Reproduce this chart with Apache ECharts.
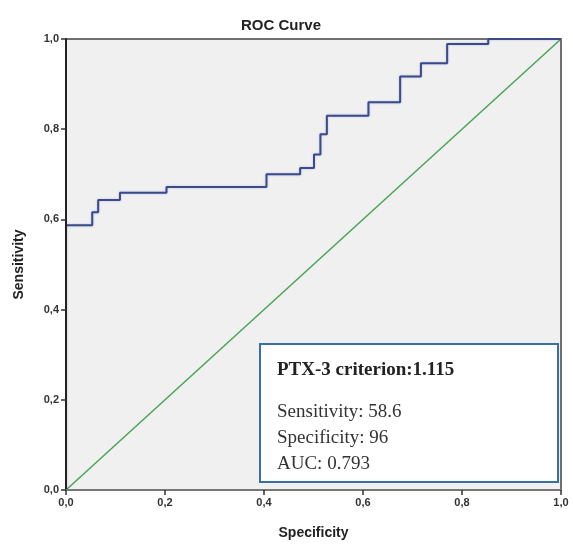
<!DOCTYPE html>
<html>
<head>
<meta charset="utf-8">
<script src="https://cdn.jsdelivr.net/npm/echarts@6/dist/echarts.min.js"></script>
<style>
  html, body { margin:0; padding:0; background:#fff; }
  #chart { width:573px; height:545px; }
</style>
</head>
<body>
<div id="chart"></div>
<script>
// ROC 曲线的拐点 (x 轴标为 Specificity, y 轴为 Sensitivity)
var rocX = [0, 0, 0.053, 0.065, 0.109, 0.203, 0.405, 0.473, 0.501, 0.514, 0.527, 0.611, 0.675, 0.717, 0.770, 0.853, 1.0];
var rocY = [0, 0.587, 0.616, 0.643, 0.659, 0.672, 0.700, 0.714, 0.744, 0.789, 0.830, 0.860, 0.917, 0.946, 0.989, 1.0, 1.0];
// 参考线
var refX = [0, 1];
var refY = [0, 1];
var boxLines = ['Sensitivity: 58.6', 'Specificity: 96', 'AUC: 0.793'];
var boxTitle = 'PTX-3 criterion:1.115';

var myChart = echarts.init(document.getElementById('chart'));

function pairs(xs, ys) {
    var out = [];
    for (var i = 0; i < xs.length; i++) out.push([xs[i], ys[i]]);
    return out;
}
function comma(v) { return v.toFixed(1).replace('.', ','); }

var axisCommon = {
    type: 'value',
    min: 0,
    max: 1,
    interval: 0.2,
    z: 5,
    splitLine: { show: false },
    axisTick: { show: true, length: 5, lineStyle: { color: '#333', width: 1.5 } },
    axisLabel: {
        formatter: comma,
        fontFamily: 'Liberation Sans, Arial',
        fontWeight: 'bold',
        fontSize: 11,
        color: '#333'
    },
    nameLocation: 'middle',
    nameTextStyle: {
        fontFamily: 'Liberation Sans, Arial',
        fontWeight: 'bold',
        fontSize: 14,
        color: '#222'
    }
};

var option = {
    animation: false,
    title: {
        text: 'ROC Curve',
        left: 236,
        top: 13,
        textStyle: {
            fontFamily: 'Liberation Sans, Arial',
            fontWeight: 'bold',
            fontSize: 15,
            color: '#222'
        }
    },
    grid: {
        left: 66,
        right: 12,
        top: 39,
        bottom: 52,
        show: true,
        backgroundColor: '#f0f0f0',
        borderColor: '#444',
        borderWidth: 1.5
    },
    xAxis: Object.assign({}, axisCommon, {
        name: 'Specificity',
        nameGap: 36,
        axisLine: { lineStyle: { color: '#777', width: 2 } },
        axisLabel: Object.assign({}, axisCommon.axisLabel, { margin: 7 })
    }),
    yAxis: Object.assign({}, axisCommon, {
        name: 'Sensitivity',
        nameGap: 40,
        axisLine: { lineStyle: { color: '#222', width: 2 } },
        axisLabel: Object.assign({}, axisCommon.axisLabel, { margin: 7 })
    }),
    series: [
        {
            name: 'Reference',
            type: 'line',
            data: pairs(refX, refY),
            symbol: 'none',
            lineStyle: { color: '#46a553', width: 1.5 }
        },
        {
            name: 'ROC',
            type: 'line',
            step: 'end',
            data: pairs(rocX, rocY),
            symbol: 'none',
            lineStyle: { color: '#3b4a8a', width: 2, shadowColor: 'rgba(120,140,200,0.5)', shadowBlur: 2 }
        }
    ],
    graphic: [
        {
            type: 'rect',
            shape: { x: 260, y: 344, width: 298, height: 138 },
            style: { fill: '#fff', stroke: '#3c6ea6', lineWidth: 2 },
            z: 100
        },
        {
            type: 'text',
            left: 277,
            top: 361,
            style: {
                text: boxTitle,
                font: 'bold 19px "Liberation Serif", "Times New Roman", serif',
                fill: '#222'
            },
            z: 101
        },
        {
            type: 'text',
            left: 277,
            top: 399,
            style: {
                text: boxLines.join('\n'),
                font: '19px "Liberation Serif", "Times New Roman", serif',
                lineHeight: 26,
                fill: '#333'
            },
            z: 101
        }
    ]
};

myChart.setOption(option);
</script>
</body>
</html>
